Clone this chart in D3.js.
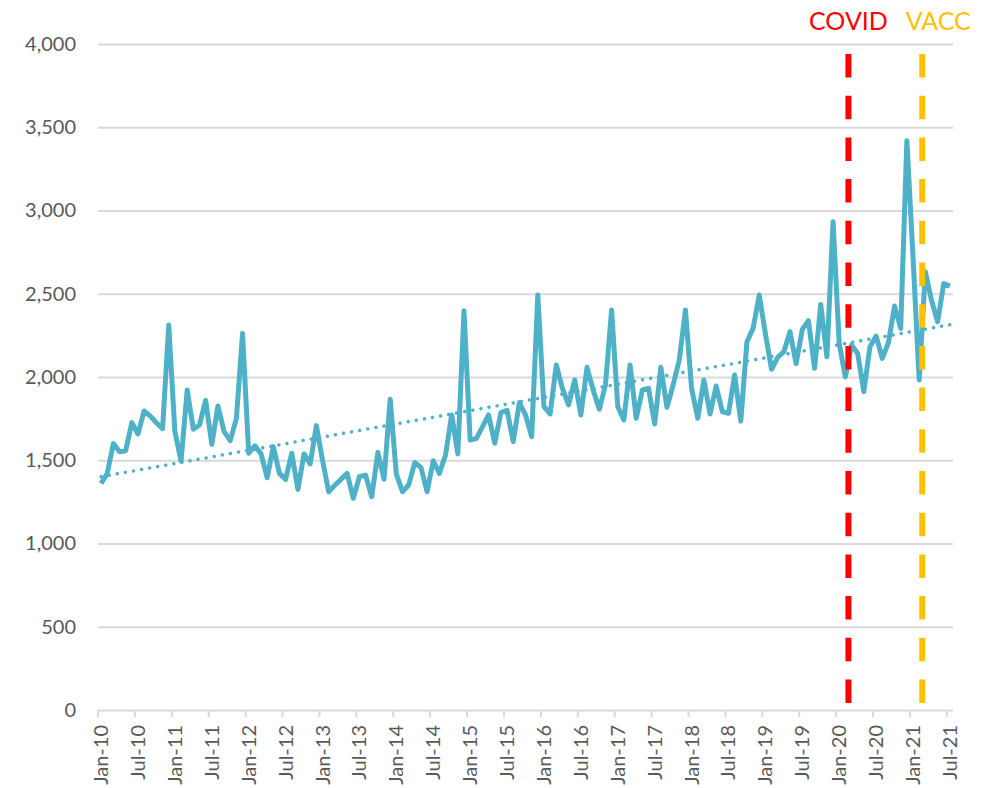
<!DOCTYPE html>
<html>
<head>
<meta charset="utf-8">
<script src="https://cdn.jsdelivr.net/npm/d3@7"></script>
<style>
	body { margin: 0; background: #fff; }
	text { font-family: Lato, "Open Sans", sans-serif; }
</style>
</head>
<body>
<div id="chart"></div>
<script>
// monthly counts, Jan-10 .. Jul-21
var values = [
	1360, 1420, 1600, 1551, 1557, 1726, 1658, 1796, 1765, 1725, 1690, 2312,
	1672, 1495, 1922, 1686, 1712, 1860, 1596, 1826, 1672, 1618, 1752, 2262,
	1542, 1586, 1540, 1395, 1582, 1421, 1385, 1542, 1325, 1538, 1478, 1708,
	1500, 1311, 1350, 1385, 1421, 1271, 1401, 1411, 1281, 1546, 1386, 1866,
	1417, 1311, 1351, 1486, 1457, 1311, 1497, 1421, 1532, 1772, 1538, 2398,
	1622, 1630, 1700, 1772, 1602, 1786, 1800, 1612, 1846, 1772, 1642, 2492,
	1822, 1778, 2072, 1932, 1832, 1982, 1772, 2058, 1922, 1806, 1952, 2402,
	1822, 1742, 2072, 1752, 1922, 1932, 1718, 2058, 1818, 1952, 2102, 2402,
	1932, 1752, 1982, 1778, 1946, 1792, 1782, 2012, 1735, 2212, 2292, 2492,
	2260, 2046, 2118, 2152, 2272, 2080, 2286, 2338, 2052, 2435, 2122, 2933,
	2200, 2000, 2192, 2142, 1912, 2182, 2246, 2112, 2206, 2426, 2292, 3419,
	2720, 1982, 2632, 2462, 2332, 2562, 2546
];
var firstMonth = '2010-01';
var yTicks = [0, 500, 1000, 1500, 2000, 2500, 3000, 3500, 4000];
var eventLabels = ['COVID', 'VACC'];
var eventMonths = ['2020-03', '2021-03'];

var init = function(domelement) {
	var width = 987, height = 788;
	var margin = {top: 44, bottom: 78, left: 98, right: 34};
	var parse = d3.utcParse('%Y-%m');
	var fmt = d3.utcFormat('%Y-%m');
	var start = parse(firstMonth);
	var months = d3.utcMonth.range(start, d3.utcMonth.offset(start, values.length)).map(fmt);
	var data = values.map(function(v, i) { return {month: months[i], value: v, i: i}; });

	// category axis, points sit between tick marks
	var x = d3.scaleBand()
		.domain(months)
		.range([margin.left, width - margin.right])
		.padding(0);
	var bw = x.bandwidth();
	var y = d3.scaleLinear()
		.domain([0, 4000])
		.range([height - margin.bottom, margin.top]);

	var svg = d3.select(domelement).append('svg')
		.attr('width', width)
		.attr('height', height);

	// gridlines + y labels
	var yAxis = svg.append('g')
		.attr('transform', 'translate(' + margin.left + ',0)')
		.call(d3.axisLeft(y)
			.tickValues(yTicks)
			.tickFormat(d3.format(','))
			.tickSize(-(width - margin.left - margin.right))
			.tickPadding(22));
	yAxis.select('.domain').remove();
	yAxis.selectAll('.tick line').attr('stroke', '#d9d9d9').attr('stroke-width', 2);
	yAxis.selectAll('.tick text').attr('fill', '#595959').style('font-size', '20px');

	// x axis: label every 6th month
	var xAxis = svg.append('g')
		.attr('transform', 'translate(0,' + y(0) + ')')
		.call(d3.axisBottom(x)
			.tickValues(months.filter(function(m, i) { return i % 6 === 0; }))
			.tickFormat(function(m) { return d3.utcFormat('%b-%y')(parse(m)); })
			.tickSize(7)
			.tickSizeOuter(0));
	xAxis.select('.domain').remove();
	xAxis.selectAll('.tick line')
		.attr('stroke', '#d9d9d9')
		.attr('stroke-width', 2)
		.attr('transform', 'translate(' + (-bw / 2) + ',0)');
	xAxis.selectAll('.tick text')
		.attr('fill', '#595959')
		.style('font-size', '20px')
		.attr('transform', 'rotate(-90)')
		.attr('text-anchor', 'end')
		.attr('x', -15)
		.attr('y', 0)
		.attr('dy', '0.35em');

	var cx = function(m) { return x(m) + bw / 2; };

	// trendline (least squares on month index)
	var n = data.length;
	var mx = d3.mean(data, function(d) { return d.i; });
	var my = d3.mean(data, function(d) { return d.value; });
	var slope = d3.sum(data, function(d) { return (d.i - mx) * (d.value - my); }) /
		d3.sum(data, function(d) { return (d.i - mx) * (d.i - mx); });
	var icpt = my - slope * mx;
	var trend = [data[0], data[n - 1]].map(function(d) { return {month: d.month, value: icpt + slope * d.i}; });

	var line = d3.line()
		.x(function(d) { return cx(d.month); })
		.y(function(d) { return y(d.value); });

	svg.append('path')
		.datum(trend)
		.attr('d', line)
		.attr('fill', 'none')
		.attr('stroke', '#4EB1C8')
		.attr('stroke-width', 3.5)
		.attr('stroke-linecap', 'round')
		.attr('stroke-dasharray', '0.01,8.2');

	svg.append('path')
		.datum(data)
		.attr('d', line)
		.attr('fill', 'none')
		.attr('stroke', '#4EB1C8')
		.attr('stroke-width', 5)
		.attr('stroke-linejoin', 'round');

	// event markers at the start of the month
	var evColors = ['#FF0000', '#FFC000'];
	var evLabelShift = [0, 16];
	eventMonths.forEach(function(m, k) {
		var ex = x(m);
		svg.append('line')
			.attr('x1', ex).attr('x2', ex)
			.attr('y1', y(3940)).attr('y2', y(0))
			.attr('stroke', evColors[k])
			.attr('stroke-width', 6)
			.attr('stroke-dasharray', '23.5,18.2');
		svg.append('text')
			.attr('x', ex + evLabelShift[k])
			.attr('y', 30)
			.attr('text-anchor', 'middle')
			.attr('fill', evColors[k])
			.style('font-size', '25px')
			.text(eventLabels[k]);
	});
};

init('#chart');
</script>
</body>
</html>
